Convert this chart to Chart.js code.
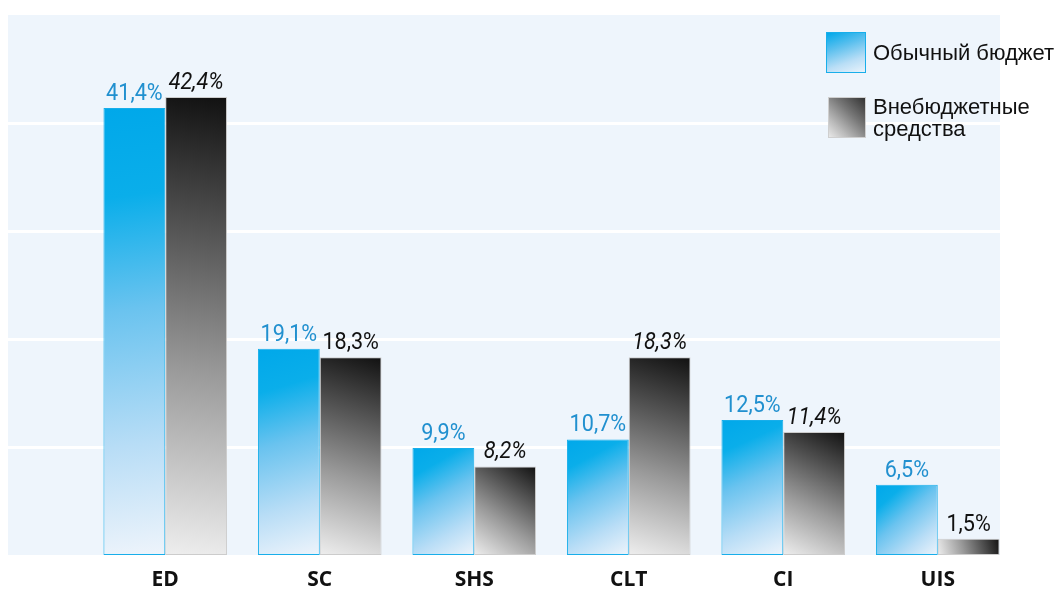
<!DOCTYPE html>
<html>
<head>
<meta charset="utf-8">
<script src="https://cdn.jsdelivr.net/npm/chart.js@4/dist/chart.umd.min.js"></script>
<style>
  body { margin: 0; background: #fff; }
  #wrap { position: relative; width: 1056px; height: 590px; }
  .leg { position: absolute; font-family: 'Liberation Sans', Arial, sans-serif; font-size: 22px; color: #111; line-height: 22px; }
  .box { position: absolute; box-sizing: border-box; }
</style>
</head>
<body>
<div id="wrap">
  <canvas id="myBarChart"></canvas>
  <div class="box" style="left:826px;top:32px;width:40px;height:41px;border:1px solid #18aeea;background:linear-gradient(160deg,#00a8ea 0%,#5cc0ee 35%,#b9def6 70%,#e9f3fb 100%);"></div>
  <div class="leg" style="left:873px;top:42px;">Обычный бюджет</div>
  <div class="box" style="left:828px;top:97px;width:38px;height:41px;border:1px solid #cfcfcf;background:linear-gradient(225deg,#333 0%,#777 40%,#bbb 75%,#e8e8e8 100%);"></div>
  <div class="leg" style="left:873px;top:96px;">Внебюджетные<br>средства</div>
</div>
<script>
const categories = ['ED', 'SC', 'SHS', 'CLT', 'CI', 'UIS'];
const regularBudget = [41.4, 19.1, 9.9, 10.7, 12.5, 6.5];
const extraBudget = [42.4, 18.3, 8.2, 18.3, 11.4, 1.5];
const regularLabels = ['41,4%', '19,1%', '9,9%', '10,7%', '12,5%', '6,5%'];
const extraLabels = ['42,4%', '18,3%', '8,2%', '18,3%', '11,4%', '1,5%'];
const seriesNames = ['Обычный бюджет', 'Внебюджетные средства'];

// label style for the grey series (some upright, most italic)
const greyItalic = [true, false, true, true, true, false];

function barBox(c) {
    const chart = c.chart;
    const xs = chart.scales.x, ys = chart.scales.y;
    if (!xs || !ys || c.raw === undefined) return null;
    const cx = xs.getPixelForValue(c.dataIndex);
    const w = xs.width / categories.length * 0.8 / 2;
    const left = c.datasetIndex === 0 ? cx - w : cx;
    const top = ys.getPixelForValue(c.raw);
    const bottom = ys.getPixelForValue(0);
    if (![cx, w, top, bottom].every(Number.isFinite) || w <= 0) return null;
    return { left: left, right: left + w, top: top, bottom: bottom };
}

function blueFill(c) {
    const b = barBox(c);
    if (!b) return '#00aaea';
    const g = c.chart.ctx.createLinearGradient(b.left, b.top, b.right, b.bottom);
    g.addColorStop(0, '#00a8ea');
    g.addColorStop(0.2, '#0aaeea');
    g.addColorStop(0.45, '#6ac3ef');
    g.addColorStop(0.75, '#b8ddf6');
    g.addColorStop(1, '#eef4fb');
    return g;
}

function greyFill(c) {
    const b = barBox(c);
    if (!b) return '#777';
    const g = c.chart.ctx.createLinearGradient(b.right, b.top, b.left, b.bottom);
    g.addColorStop(0, '#111111');
    g.addColorStop(0.3, '#555555');
    g.addColorStop(0.6, '#9a9a9a');
    g.addColorStop(1, '#eeeeee');
    return g;
}

const panelPlugin = {
    id: 'panel',
    beforeDraw(chart) {
        const ctx = chart.ctx, a = chart.chartArea, ys = chart.scales.y;
        ctx.save();
        ctx.fillStyle = '#ffffff';
        ctx.fillRect(0, 0, chart.width, chart.height);
        ctx.fillStyle = '#eef5fc';
        ctx.fillRect(8, a.top, 992, a.bottom - a.top);
        ctx.strokeStyle = '#ffffff';
        ctx.lineWidth = 3;
        [10, 20, 30, 40].forEach(function (v) {
            const y = Math.round(ys.getPixelForValue(v)) + 0.5;
            ctx.beginPath();
            ctx.moveTo(8, y);
            ctx.lineTo(1000, y);
            ctx.stroke();
        });
        ctx.restore();
    }
};

function drawLabel(ctx, text, x, y) {
    ctx.save();
    ctx.translate(x, y);
    ctx.scale(0.9, 1);
    ctx.fillText(text, 0, 0);
    ctx.restore();
}

const valueLabels = {
    id: 'valueLabels',
    afterDatasetsDraw(chart) {
        const ctx = chart.ctx;
        ctx.save();
        ctx.textAlign = 'center';
        ctx.textBaseline = 'bottom';
        chart.getDatasetMeta(0).data.forEach(function (bar, i) {
            ctx.fillStyle = '#2190cf';
            ctx.font = '24px Roboto';
            drawLabel(ctx, regularLabels[i], bar.x, bar.y - 2);
        });
        chart.getDatasetMeta(1).data.forEach(function (bar, i) {
            ctx.fillStyle = '#111111';
            ctx.font = (greyItalic[i] ? 'italic ' : '') + '24px Roboto';
            drawLabel(ctx, extraLabels[i], bar.x, bar.y - 2);
        });
        ctx.restore();
    }
};

const ctx = document.getElementById('myBarChart').getContext('2d');
const barChart = new Chart(ctx, {
    type: 'bar',
    data: {
        labels: categories,
        datasets: [{
            label: seriesNames[0],
            data: regularBudget,
            backgroundColor: blueFill,
            borderColor: '#18aeea',
            borderWidth: 1,
            borderSkipped: false
        }, {
            label: seriesNames[1],
            data: extraBudget,
            backgroundColor: greyFill,
            borderColor: '#cccccc',
            borderWidth: 1,
            borderSkipped: false
        }]
    },
    options: {
        responsive: true,
        maintainAspectRatio: false,
        animation: false,
        layout: { padding: { left: 88, right: 41, top: 15, bottom: 0 } },
        datasets: { bar: { categoryPercentage: 0.8, barPercentage: 1.0 } },
        plugins: {
            legend: { display: false },
            tooltip: { enabled: false }
        },
        scales: {
            x: {
                grid: { display: false, drawTicks: false },
                border: { display: false },
                ticks: {
                    color: '#111',
                    padding: 12,
                    font: { family: "'Open Sans'", size: 21, weight: 'bold' }
                },
                afterFit(scale) { scale.height = 35; }
            },
            y: {
                display: false,
                min: 0,
                max: 50
            }
        }
    },
    plugins: [panelPlugin, valueLabels]
});
</script>
</body>
</html>
